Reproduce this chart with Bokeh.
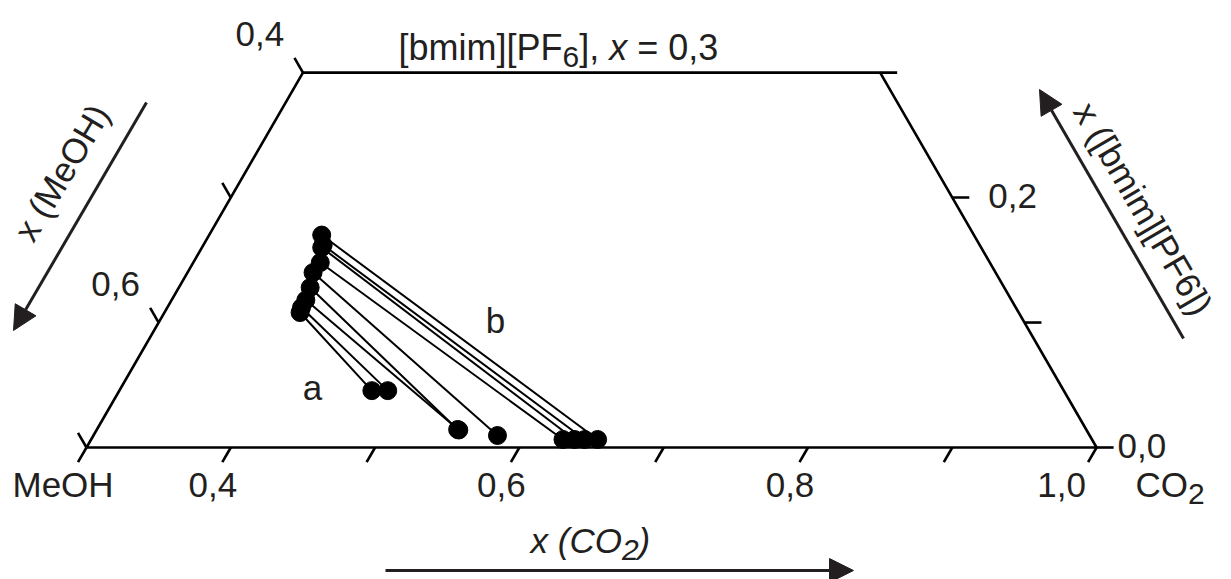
import math
from bokeh.plotting import figure
from bokeh.models import Range1d, Arrow, NormalHead
from bokeh.core.properties import value
from bokeh.embed import file_html
from bokeh.resources import INLINE

# ---------------- data (mole fractions) ----------------
# tie lines: MeOH-rich liquid phase (left end) and CO2-rich phase (right end)
left_co2 = [0.378, 0.383, 0.383, 0.388, 0.387, 0.391, 0.393, 0.393, 0.394]
left_bmim = [0.170, 0.162, 0.160, 0.148, 0.140, 0.128, 0.118, 0.112, 0.108]
right_co2 = [0.651, 0.642, 0.635, 0.627, 0.580, 0.550, 0.551, 0.486, 0.475]
right_bmim = [0.0064, 0.0064, 0.0064, 0.0064, 0.0096, 0.0144, 0.0140, 0.0455, 0.0455]

co2_ticks = [0.3, 0.4, 0.5, 0.6, 0.7, 0.8, 0.9, 1.0]
co2_tick_labels = ["", "0,4", "", "0,6", "", "0,8", "", "1,0"]
meoh_ticks = [0.7, 0.6, 0.5, 0.4]
meoh_tick_labels = ["", "0,6", "", "0,4"]
bmim_ticks = [0.0, 0.1, 0.2, 0.3]
bmim_tick_labels = ["0,0", "", "0,2", ""]

CO2_MIN = 0.3
BMIM_MAX = 0.3

# ---------------- layout helpers ----------------
FONT = "Liberation Sans"
FS = 35
SUB = 30
H = math.sqrt(3) / 2
S = 1443.0     # px per unit
OX = 86.0      # screen x of (co2=0.3, bmim=0)
OY = 447.0     # screen y of bmim=0
INK = "#231f20"
ROW = 484      # baseline of the bottom label row


def tern(co2, bmim):
    return co2 + 0.5 * bmim, H * bmim


def dx(px):
    return CO2_MIN + (px - OX) / S


def dy(py):
    return (OY - py) / S


def spx(u, v):
    return OX + (u - CO2_MIN) * S, OY - v * S


W = {'[': 278, ']': 278, 'b': 556, 'm': 833, 'i': 222, 'P': 667, 'F': 611,
     '6': 556, ',': 278, ' ': 278, 'x': 500, '=': 584, '0': 556, '3': 556,
     'C': 722, 'O': 778, '2': 556, '(': 333, ')': 333}


def tw(s, size):
    return sum(W.get(c, 556) for c in s) * size / 1000.0


p = figure(width=1231, height=579, output_backend="svg", toolbar_location=None,
           x_range=Range1d(dx(0), dx(1231)), y_range=Range1d(dy(579), dy(0)),
           x_axis_type=None, y_axis_type=None, min_border=0)
p.outline_line_color = None
p.background_fill_color = "white"
p.border_fill_color = "white"


def txt(px, py, s, size=FS, style="normal", align="left", baseline="alphabetic", angle=0.0):
    p.text(x=[dx(px)], y=[dy(py)], text=[s], text_font=value(FONT),
           text_font_size=value(f"{size}px"), text_font_style=value(style),
           text_align=value(align), text_baseline=value(baseline),
           angle=angle, text_color=INK)


def pieces(px, py, parts):
    x = px
    for s, size, style, shift in parts:
        stripped = s.lstrip(" ")
        x += tw(s[:len(s) - len(stripped)], size)
        txt(x, py + shift, stripped.rstrip(" "), size=size, style=style)
        x += tw(stripped, size)


# ---------------- frame ----------------
corners = [(CO2_MIN, 0.0), (CO2_MIN, BMIM_MAX), (1.0 - BMIM_MAX, BMIM_MAX), (1.0, 0.0)]
fx, fy = zip(*[tern(c, b) for c, b in corners])
p.line(x=list(fx) + [fx[0]], y=list(fy) + [fy[0]], line_color="black", line_width=2.6)

TL = 17.0 / S
x0s, y0s, x1s, y1s = [], [], [], []
# bottom ticks (x CO2), pointing down-left
for c in co2_ticks:
    u, v = tern(c, 0.0)
    x0s.append(u); y0s.append(v)
    x1s.append(u - 0.5 * TL); y1s.append(v - H * TL)
# left ticks (x MeOH), pointing up-left
for m in meoh_ticks:
    u, v = tern(CO2_MIN, 1.0 - CO2_MIN - m)
    x0s.append(u); y0s.append(v)
    x1s.append(u - 0.5 * TL); y1s.append(v + H * TL)
# right ticks (x bmim), horizontal to the right
for b in bmim_ticks:
    u, v = tern(1.0 - b, b)
    x0s.append(u); y0s.append(v)
    x1s.append(u + TL); y1s.append(v)
p.segment(x0=x0s, y0=y0s, x1=x1s, y1=y1s, line_color="black", line_width=2.6)

# tick labels
for c, lab in zip(co2_ticks, co2_tick_labels):
    if lab:
        px, py = spx(*tern(c, 0.0))
        shift = 35 if c >= 1.0 else 18
        txt(px - shift, ROW, lab, align="center")
for m, lab in zip(meoh_ticks, meoh_tick_labels):
    if lab:
        px, py = spx(*tern(CO2_MIN, 1.0 - CO2_MIN - m))
        txt(px - 43, py - 39, lab, align="center", baseline="middle")
for b, lab in zip(bmim_ticks, bmim_tick_labels):
    if lab:
        px, py = spx(*tern(1.0 - b, b))
        txt(px + 21 + 75 * b, py - 2, lab, align="left", baseline="middle")

# ---------------- tie lines and points ----------------
lu, lv = zip(*[tern(c, b) for c, b in zip(left_co2, left_bmim)])
ru, rv = zip(*[tern(c, b) for c, b in zip(right_co2, right_bmim)])
p.segment(x0=list(lu), y0=list(lv), x1=list(ru), y1=list(rv), line_color="black", line_width=2.0)
p.scatter(x=list(lu) + list(ru), y=list(lv) + list(rv), size=18, fill_color="black", line_color="black")

txt(312, 387, "a", align="center", baseline="middle")
txt(495, 320, "b", align="center", baseline="middle")

# ---------------- corner / axis names ----------------
txt(12, ROW, "MeOH")
pieces(1135, ROW, [("CO", FS, "normal", 0), ("2", SUB, "normal", 9)])
pieces(398, 47, [("[bmim][PF", 36, "normal", 0), ("6", SUB, "normal", 9),
                 ("], ", 36, "normal", 0), ("x", 36, "italic", 0), (" = 0,3", 36, "normal", 0)])
pieces(530, 540, [("x (CO", FS, "italic", 0), ("2", SUB, "italic", 9), (")", FS, "italic", 0)])

txt(61, 172, "x (MeOH)", align="center", baseline="middle", angle=math.radians(59.2))
txt(1143, 208, "x ([bmim][PF6])", align="center", baseline="middle", angle=math.radians(-59.7))

# ---------------- direction arrows ----------------
for (xs, ys, xe, ye) in [(385, 570, 853, 570), (146, 102, 13, 330), (1183, 338, 1039, 89)]:
    p.add_layout(Arrow(x_start=dx(xs), y_start=dy(ys), x_end=dx(xe), y_end=dy(ye),
                       line_width=3, line_color=INK,
                       end=NormalHead(size=24, fill_color=INK, line_color=INK)))

open("out.html", "w").write(file_html(p, INLINE))
